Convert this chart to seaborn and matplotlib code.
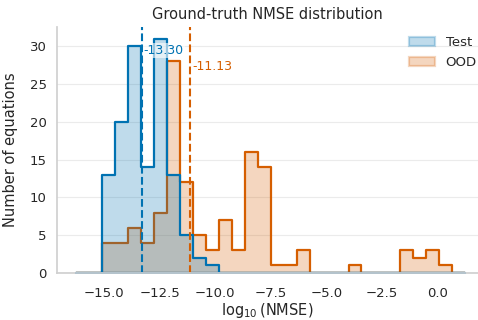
import numpy as np
import pandas as pd
import matplotlib
matplotlib.use("Agg")
import matplotlib.pyplot as plt
import seaborn as sns

# bins of the histogram (common to both sets)
bin_lo, bin_hi, n_bins = -16.25, 1.25, 30

# counts per bin
test_counts = [0, 0, 13, 20, 30, 14, 31, 13, 5, 2, 1, 0, 0, 0, 0,
               0, 0, 0, 0, 0, 0, 0, 0, 0, 0, 0, 0, 0, 0, 0]
ood_counts = [0, 0, 4, 4, 6, 4, 8, 28, 12, 5, 3, 7, 3, 16, 14,
              1, 1, 3, 0, 0, 0, 1, 0, 0, 0, 3, 2, 3, 1, 0]

medians = {"Test": -13.30, "OOD": -11.13}
colors = {"Test": "#0072B2", "OOD": "#D55E00"}

edges = np.linspace(bin_lo, bin_hi, n_bins + 1)
centers = (edges[:-1] + edges[1:]) / 2

df = pd.DataFrame({
    "x": np.concatenate([centers, centers]),
    "n": test_counts + ood_counts,
    "set": ["Test"] * n_bins + ["OOD"] * n_bins,
})

sns.set_theme(style="whitegrid")
plt.rcParams["font.family"] = ["DejaVu Sans"]

fig = plt.figure(figsize=(4.78, 3.2), dpi=100)
ax = fig.add_axes([57 / 478, 47 / 320, 1 - 57 / 478, 246 / 320])

sns.histplot(data=df, x="x", weights="n", hue="set",
             bins=n_bins, binrange=(bin_lo, bin_hi),
             element="step", fill=True, alpha=0.25, linewidth=1.6,
             palette=colors, hue_order=["Test", "OOD"], ax=ax)

ymax = max(max(test_counts), max(ood_counts))
for name, frac in [("Test", 0.95), ("OOD", 0.88)]:
    m = medians[name]
    ax.axvline(m, color=colors[name], linestyle="--", linewidth=1.5)
    ax.text(m + 0.08, ymax * frac, f"{m:.2f}", color=colors[name],
            fontsize=9, va="center", ha="left",
            bbox=dict(facecolor="white", edgecolor="none", alpha=0.6, pad=0.5))

ax.set_xlim(-17.125, 1.83)
ax.grid(axis="x", visible=False)
ax.grid(axis="y", color="#ebebeb", linewidth=0.8)
sns.despine(ax=ax)
for s in ["left", "bottom"]:
    ax.spines[s].set_color("#d0d0d0")

ax.tick_params(labelsize=9.5, colors="#262626", pad=4)
ax.tick_params(axis="y", length=0, pad=7.5)
ax.set_xlabel(r"$\log_{10}$(NMSE)", fontsize=10.5, labelpad=1)
ax.set_ylabel("Number of equations", fontsize=10.5, labelpad=8)
ax.set_title("Ground-truth NMSE distribution", fontsize=10.5)

sns.move_legend(ax, "upper right", title=None, frameon=False, fontsize=9.5,
                bbox_to_anchor=(1.025, 1.01))
for h in ax.legend_.legend_handles:
    h.set_alpha(0.25)

fig.savefig("out.png", dpi=100)
